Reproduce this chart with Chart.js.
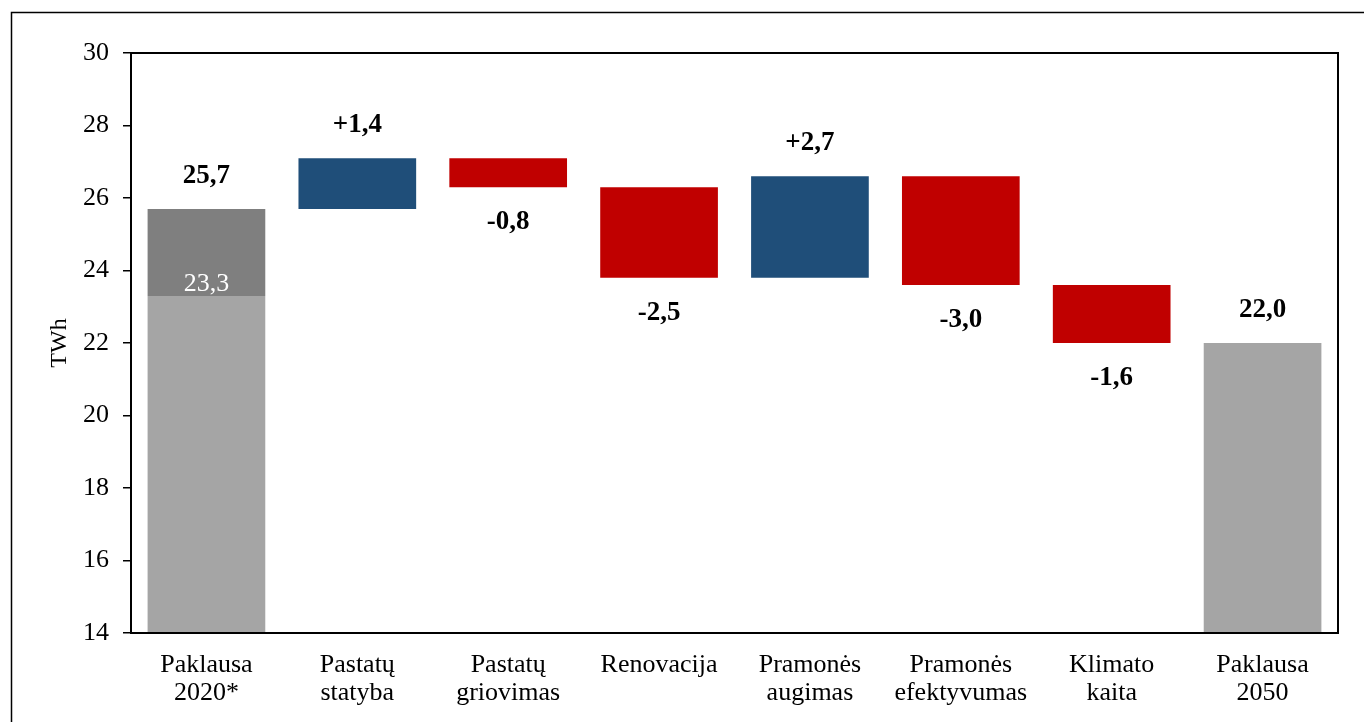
<!DOCTYPE html>
<html>
<head>
<meta charset="utf-8">
<script src="https://cdn.jsdelivr.net/npm/chart.js@4"></script>
<style>
html,body{margin:0;padding:0;background:#fff;}
#wrap{width:1364px;height:722px;position:relative;}
</style>
</head>
<body>
<div id="wrap"><canvas id="c" width="1364" height="722"></canvas></div>
<script>
const categories = [["Paklausa","2020*"],["Pastatų","statyba"],["Pastatų","griovimas"],["Renovacija"],["Pramonės","augimas"],["Pramonės","efektyvumas"],["Klimato","kaita"],["Paklausa","2050"]];
const baseLight = [[14,23.3],null,null,null,null,null,null,[14,22.0]];
const baseDark = [[23.3,25.7],null,null,null,null,null,null,null];
const increases = [null,[25.7,27.1],null,null,[23.8,26.6],null,null,null];
const decreases = [null,null,[26.3,27.1],[23.8,26.3],null,[23.6,26.6],[22.0,23.6],null];
const valueLabels = ["25,7","+1,4","-0,8","-2,5","+2,7","-3,0","-1,6","22,0"];
const labelSide = ["top","top","bottom","bottom","top","bottom","bottom","top"];
const innerLabel = "23,3";
const yTicks = [14,16,18,20,22,24,26,28,30];

const serif = "'Liberation Serif','Times New Roman',serif";

const decor = {
  id:'decor',
  beforeDraw(chart){
    const ctx = chart.ctx;
    ctx.save();
    ctx.strokeStyle='#000';
    ctx.lineWidth=1.5;
    ctx.beginPath();
    ctx.moveTo(11.5,722);
    ctx.lineTo(11.5,12.5);
    ctx.lineTo(1364,12.5);
    ctx.stroke();
    ctx.restore();
  },
  afterDatasetsDraw(chart){
    const ctx = chart.ctx;
    const a = chart.chartArea;
    const y = chart.scales.y, x = chart.scales.x;
    ctx.save();
    ctx.strokeStyle='#000';
    ctx.lineWidth=2;
    ctx.strokeRect(a.left, a.top, a.right-a.left, a.bottom-a.top);
    ctx.fillStyle='#000';
    ctx.font = "bold 27px " + serif;
    ctx.textAlign='center';
    ctx.textBaseline='middle';
    const ranges = categories.map((_,i)=>{
      const arr=[baseLight[i],baseDark[i],increases[i],decreases[i]].filter(v=>v);
      const lo=Math.min(...arr.map(v=>Math.min(v[0],v[1])));
      const hi=Math.max(...arr.map(v=>Math.max(v[0],v[1])));
      return [lo,hi];
    });
    valueLabels.forEach((t,i)=>{
      const cx = x.getPixelForValue(i);
      const py = labelSide[i]==='top' ? y.getPixelForValue(ranges[i][1]) - 33 : y.getPixelForValue(ranges[i][0]) + 35;
      ctx.fillText(t,cx,py);
    });
    ctx.fillStyle='#fff';
    ctx.font = "26px " + serif;
    ctx.fillText(innerLabel, x.getPixelForValue(0), y.getPixelForValue(baseDark[0][0]) - 12);
    ctx.restore();
  }
};

const common = {grouped:false, barPercentage:0.78, categoryPercentage:1.0, borderWidth:0};
new Chart(document.getElementById('c'),{
  type:'bar',
  data:{
    labels:categories,
    datasets:[
      Object.assign({label:'base', data:baseLight, backgroundColor:'#a5a5a5'},common),
      Object.assign({label:'2020 dalis', data:baseDark, backgroundColor:'#7f7f7f'},common),
      Object.assign({label:'didėjimas', data:increases, backgroundColor:'#1f4e79'},common),
      Object.assign({label:'mažėjimas', data:decreases, backgroundColor:'#c00000'},common)
    ]
  },
  options:{
    responsive:false,
    animation:false,
    layout:{padding:{top:53,right:26,left:0,bottom:0}},
    plugins:{legend:{display:false},tooltip:{enabled:false}},
    scales:{
      x:{
        grid:{display:false, drawTicks:false},
        border:{display:true,color:'#000',width:2},
        ticks:{color:'#000',font:{family:serif,size:26,lineHeight:1.05},padding:19,maxRotation:0,autoSkip:false},
        afterFit(s){s.height=89;}
      },
      y:{
        min:14,max:30,
        afterBuildTicks(s){s.ticks=yTicks.map(v=>({value:v}));},
        grid:{drawOnChartArea:false, drawTicks:true, tickLength:8, color:'#000', lineWidth:1.5},
        border:{display:true,color:'#000',width:2},
        ticks:{color:'#000',font:{family:serif,size:26},padding:14},
        title:{display:true,text:'TWh',color:'#000',font:{family:serif,size:24},padding:{top:45,bottom:0}},
        afterFit(s){s.width=131;}
      }
    }
  },
  plugins:[decor]
});
</script>
</body>
</html>
